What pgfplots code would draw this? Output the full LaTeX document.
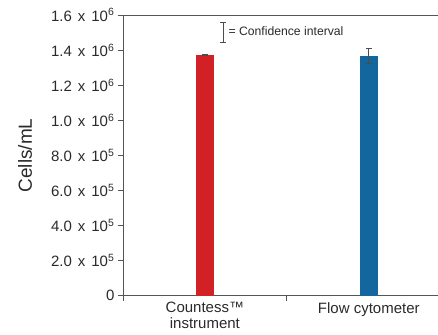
\documentclass[border=0pt]{standalone}
\usepackage{pgfplots}
\pgfplotsset{compat=1.18}
\usepackage{fontspec}
\setmainfont{Liberation Sans}
\definecolor{cred}{HTML}{D22027}
\definecolor{cblue}{HTML}{14679E}
\definecolor{axgray}{HTML}{555555}
\definecolor{txt}{HTML}{2A2A2A}
\newcommand{\tl}[2]{#1\hspace{0.12em} x\hspace{0.12em} 10\textsuperscript{#2}}
\begin{document}
\begin{tikzpicture}
\begin{axis}[
  name=ax,
  scale only axis,
  width=315pt, height=281pt,
  xmin=-0.5, xmax=1.42,
  ymin=0, ymax=1600000,
  axis x line*=bottom, axis y line*=left,
  axis line style={axgray, line width=0.7pt},
  tick style={axgray, line width=0.7pt},
  tick align=outside,
  major tick length=5pt,
  xtick={-0.5,0.5}, xticklabels={},
  extra x ticks={0,1},
  extra x tick labels={Countess™\\instrument, Flow cytometer},
  extra x tick style={major tick length=0pt, xticklabel style={align=center, font=\fontsize{15}{16}\selectfont, text=txt, yshift=-3pt}},
  ytick={0,200000,400000,600000,800000,1000000,1200000,1400000,1600000},
  yticklabels={0, \tl{2.0}{5}, \tl{4.0}{5}, \tl{6.0}{5}, \tl{8.0}{5}, \tl{1.0}{6}, \tl{1.2}{6}, \tl{1.4}{6}, \tl{1.6}{6}},
  yticklabel style={font=\fontsize{15}{15}\selectfont, text=txt},
  scaled y ticks=false,
  ylabel={Cells/mL},
  every axis y label/.style={at={(rel axis cs:0,0.5)}, rotate=90, anchor=center, yshift=98pt, font=\fontsize{19}{19}\selectfont, text=txt},
  clip=false,
  legend style={draw=none, fill=none, at={(axis cs:0.09,1503000)}, anchor=west, font=\fontsize{12.2}{13}\selectfont, text=txt, inner sep=0pt},
]
\draw[axgray, line width=0.7pt] (rel axis cs:0,1) -- (rel axis cs:1,1);
\addplot[ybar, bar width=18pt, fill=cred, draw=none, bar shift=0pt, forget plot,
  error bars/.cd, y dir=both, y explicit,
  error bar style={black!70, line width=0.7pt},
  error mark options={rotate=90, mark size=3pt, black!70, line width=0.7pt}]
  coordinates {(0,1372000) +- (0,2000)};
\addplot[ybar, bar width=18pt, fill=cblue, draw=none, bar shift=0pt, forget plot,
  error bars/.cd, y dir=both, y explicit,
  error bar style={black!70, line width=0.7pt},
  error mark options={rotate=90, mark size=3pt, black!70, line width=0.7pt}]
  coordinates {(1,1368000) +- (0,44000)};
\addlegendimage{legend image code/.code={\draw[black!70, line width=0.8pt] (0pt,-10pt) -- (0pt,10pt) (-3pt,-10pt) -- (3pt,-10pt) (-3pt,10pt) -- (3pt,10pt);}}
\addlegendentry{= Confidence interval}
\end{axis}
\path[use as bounding box] ([shift={(-123pt,-39pt)}]ax.south west) rectangle ([shift={(0pt,15pt)}]ax.north east);
\end{tikzpicture}
\end{document}
